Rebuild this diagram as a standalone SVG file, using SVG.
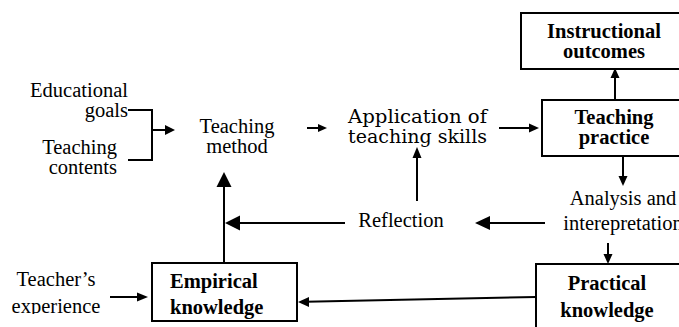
<svg xmlns="http://www.w3.org/2000/svg" width="679" height="327" viewBox="0 0 679 327">
<style>
text{fill:#000;font-family:"Liberation Serif","Times New Roman",serif}
.t{font-size:20.5px}
.b{font-size:20.5px;font-weight:bold}
.c{font-size:18px;font-family:"DejaVu Serif","Liberation Serif",serif}
.box{fill:#fff;stroke:#000;stroke-width:2}
.ln{fill:none;stroke:#000;stroke-width:2}
.ah{fill:#000}
</style>
<defs>
<clipPath id="clipA"><rect x="0" y="0" width="679" height="235"/></clipPath>
<clipPath id="clipE"><rect x="0" y="0" width="679" height="314"/></clipPath>
</defs>
<rect width="679" height="327" fill="#fff"/>
<g id="connectors">
<polyline class="ln" points="128,110 152,110 152,160 128,160"/>
<line class="ln" x1="152" y1="130" x2="166" y2="130"/>
<polygon class="ah" points="175,130 165,125 165,135"/>
<line class="ln" x1="307" y1="128" x2="319" y2="128"/>
<polygon class="ah" points="327,128 318,124 318,132"/>
<line class="ln" x1="499" y1="128" x2="530" y2="128"/>
<polygon class="ah" points="539,128 529,123.5 529,132.5"/>
<line class="ln" x1="615" y1="100" x2="615" y2="77"/>
<polygon class="ah" points="615,68 610.5,78 619.5,78"/>
<line class="ln" x1="623" y1="156" x2="623" y2="177"/>
<polygon class="ah" points="623,186 618.5,176 627.5,176"/>
<line class="ln" x1="545" y1="223" x2="487" y2="223"/>
<polygon class="ah" points="475,223 490,216 490,230"/>
<line class="ln" x1="608" y1="243" x2="608" y2="255"/>
<polygon class="ah" points="608,264 603.5,254 612.5,254"/>
<line class="ln" x1="417" y1="201" x2="417" y2="156"/>
<polygon class="ah" points="417,147 412.5,158 421.5,158"/>
<line class="ln" x1="345" y1="223" x2="238" y2="223"/>
<polygon class="ah" points="225,223 240,215.5 240,230.5"/>
<line class="ln" x1="224" y1="263" x2="224" y2="184"/>
<polygon class="ah" points="224,172 216.5,187 231.5,187"/>
<line class="ln" x1="536" y1="297" x2="306" y2="301.8"/>
<polygon class="ah" points="298,302 309,297 309,307"/>
<line class="ln" x1="110" y1="297" x2="138" y2="297"/>
<polygon class="ah" points="148,297 137,292.5 137,301.5"/>
</g>
<g id="educational-goals">
<text class="t" text-anchor="end" x="128" y="97">Educational</text>
<text class="t" text-anchor="end" x="128" y="117">goals</text>
</g>
<g id="teaching-contents">
<text class="t" text-anchor="end" x="117" y="154">Teaching</text>
<text class="t" text-anchor="end" x="117" y="174">contents</text>
</g>
<g id="teaching-method">
<text class="t" text-anchor="middle" x="237" y="133">Teaching</text>
<text class="t" text-anchor="middle" x="237" y="153">method</text>
</g>
<g id="application">
<text class="c" x="348" y="123" textLength="139" lengthAdjust="spacingAndGlyphs">Application of</text>
<text class="c" x="348" y="143" textLength="139" lengthAdjust="spacingAndGlyphs">teaching skills</text>
</g>
<g id="instructional-outcomes">
<rect class="box" x="521" y="13" width="170" height="56"/>
<text class="b" text-anchor="middle" x="604" y="38">Instructional</text>
<text class="b" text-anchor="middle" x="604" y="58">outcomes</text>
</g>
<g id="teaching-practice">
<rect class="box" x="542" y="100" width="150" height="56"/>
<text class="b" text-anchor="middle" x="614" y="124">Teaching</text>
<text class="b" text-anchor="middle" x="614" y="144">practice</text>
</g>
<g id="analysis" clip-path="url(#clipA)">
<text class="t" text-anchor="middle" x="623" y="205">Analysis and</text>
<text class="t" text-anchor="middle" x="623" y="230">interepretation</text>
</g>
<g id="reflection">
<text class="t" text-anchor="middle" x="401" y="227">Reflection</text>
</g>
<g id="practical-knowledge">
<rect class="box" x="536" y="264" width="160" height="80"/>
<text class="b" text-anchor="middle" x="607" y="290">Practical</text>
<text class="b" text-anchor="middle" x="607" y="317">knowledge</text>
</g>
<g id="empirical-knowledge">
<rect class="box" x="152" y="263" width="145" height="58"/>
<text class="b" x="170" y="288">Empirical</text>
<text class="b" x="170" y="314">knowledge</text>
</g>
<g id="teachers-experience" clip-path="url(#clipE)">
<text class="t" text-anchor="middle" x="56" y="286">Teacher’s</text>
<text class="t" text-anchor="middle" x="56" y="313">experience</text>
</g>
</svg>
